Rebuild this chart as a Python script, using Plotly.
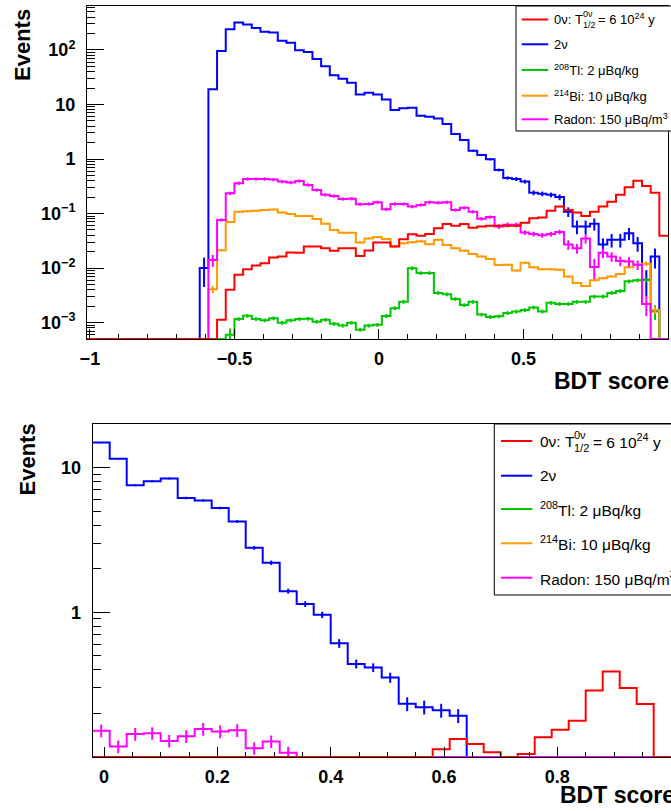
import numpy as np
import plotly.graph_objects as go

W, H = 671, 811

# ---------------- data ----------------
# top panel: 67 bins of width 0.03 from -1.01 to 1.00
top_edges = np.round(np.linspace(-1.01, 1.00, 68), 4)
# bottom panel: 34 bins of width 0.03 from -0.02 to 1.00
bot_edges = np.round(np.linspace(-0.02, 1.00, 35), 4)

top_0nu = [0] * 15 + [
    0.00113, 0.004, 0.0075, 0.0095, 0.0111, 0.0123, 0.0156, 0.0163, 0.0192, 0.019,
    0.0248, 0.0248, 0.023, 0.0207, 0.023, 0.023,
    0.0167, 0.021, 0.0294, 0.0294, 0.0248, 0.0338, 0.0418, 0.039, 0.042, 0.0537,
    0.064, 0.060, 0.064, 0.055, 0.058, 0.060, 0.060, 0.060,
    0.060, 0.068, 0.082, 0.085, 0.113, 0.134, 0.116, 0.105, 0.090, 0.108,
    0.134, 0.165, 0.22, 0.303, 0.40, 0.32, 0.24, 0.039]

top_2nu = [0] * 13 + [
    0.010, 19, 96, 240, 320, 293, 254, 215, 209, 147, 135, 99, 92, 68, 50, 34.5, 29.6, 25,
    15.3, 16.4, 15.3, 12.4, 7.9, 8.5, 8.7, 6.2, 5.96, 5.56, 4.37, 2.87, 2.23, 1.42, 1.18,
    0.99, 0.63, 0.45, 0.43, 0.385, 0.24, 0.23, 0.22, 0.20, 0.108, 0.058, 0.058, 0.065,
    0.027, 0.033, 0.033, 0.0435, 0.0285, 0.0061, 0.0163, 0]

top_tl = [0] * 16 + [
    0.0006, 0.00116, 0.00133, 0.00116, 0.0011, 0.0012, 0.00099, 0.0011, 0.00116, 0.00118,
    0.00104, 0.00113, 0.00095, 0.00088, 0.00099, 0.00074, 0.00088, 0.00091, 0.00132,
    0.00184, 0.0024, 0.00995, 0.0081, 0.0081, 0.0035, 0.0033, 0.0027, 0.0021, 0.0024,
    0.0014, 0.00127, 0.0013, 0.0015, 0.0016, 0.0017, 0.0019, 0.0016, 0.0023, 0.0022,
    0.0022, 0.0024, 0.0024, 0.003, 0.003, 0.0035, 0.0038, 0.0057, 0.006, 0.006, 0.0016, 0]

top_bi = [0] * 14 + [
    0.0041, 0.0213, 0.07, 0.108, 0.11, 0.112, 0.116, 0.118, 0.104, 0.098, 0.09, 0.09,
    0.079, 0.065, 0.05, 0.0446, 0.0446, 0.0294, 0.035, 0.037, 0.034, 0.025, 0.0285,
    0.0297, 0.031, 0.0274, 0.033, 0.0266, 0.023, 0.0207, 0.0182, 0.0163, 0.0146, 0.0114,
    0.0115, 0.0090, 0.0125, 0.0104, 0.0095, 0.0095, 0.0093, 0.0070, 0.0053, 0.0047,
    0.006, 0.0065, 0.007, 0.0078, 0.0104, 0.0115, 0.012, 0.0017, 0]

top_rn = [0] * 14 + [
    0.014, 0.076, 0.235, 0.36, 0.43, 0.43, 0.43, 0.42, 0.385, 0.37, 0.395, 0.334, 0.27,
    0.22, 0.21, 0.185, 0.187, 0.148, 0.15, 0.161, 0.12, 0.15, 0.15, 0.134, 0.144, 0.161,
    0.158, 0.161, 0.116, 0.128, 0.108, 0.08, 0.086, 0.058, 0.062, 0.062, 0.045, 0.042,
    0.04, 0.042, 0.046, 0.027, 0.023, 0.035, 0.0105, 0.019, 0.0163, 0.0135, 0.0132,
    0.0115, 0.0022, 0, 0]

# relative statistical errors
top_2nu_err = [0] * 13 + [0.55] + [0.01] * 28 + [0.03, 0.03, 0.04, 0.04, 0.05] + [
    0.06, 0.07, 0.08, 0.08, 0.1, 0.1, 0.1, 0.12, 0.2, 0.28, 0.28, 0.25, 0.3, 0.28, 0.28,
    0.25, 0.3, 0.5, 0.4, 0]
top_tl_err = [0] * 16 + [0.3] + [0.08] * 48 + [0.3, 0]
top_bi_err = [0] * 14 + [0.15] + [0.04] * 49 + [0.1, 0.15, 0]
top_rn_err = [0] * 14 + [0.25] + [0.07] * 32 + [0.1] * 8 + [0.2, 0.2, 0.2, 0.4, 0.2,
                                                          0.2, 0.2, 0.2, 0.2, 0.4, 0, 0]

bot_0nu = [0] * 20 + [0.113, 0.133, 0.123, 0.108, 0, 0.105, 0.137, 0.154, 0.178, 0.288,
                      0.389, 0.30, 0.232, 0]
bot_2nu = [14.9, 11.5, 7.55, 8.05, 8.4, 6.17, 5.92, 5.26, 4.24, 2.79, 2.2, 1.40, 1.14,
           0.96, 0.61, 0.44, 0.415, 0.354, 0.233, 0.221, 0.21, 0.193] + [0] * 12
bot_tl = [0] * 34
bot_bi = [0] * 34
bot_rn = [0.152, 0.118, 0.144, 0.146, 0.129, 0.139, 0.156, 0.15, 0.153, 0.115, 0.128,
          0.107] + [0] * 22

bot_2nu_err = [0.01, 0.012, 0.015, 0.015, 0.015, 0.02, 0.02, 0.02, 0.025, 0.03, 0.035,
               0.04, 0.045, 0.05, 0.07, 0.07, 0.07, 0.08, 0.11, 0.11, 0.11, 0.11] + [0] * 12
bot_rn_err = [0.1] * 12 + [0] * 22

for arr, n in [(top_0nu, 67), (top_2nu, 67), (top_tl, 67), (top_bi, 67), (top_rn, 67),
               (top_2nu_err, 67), (top_tl_err, 67), (top_bi_err, 67), (top_rn_err, 67),
               (bot_0nu, 34), (bot_2nu, 34), (bot_rn, 34), (bot_2nu_err, 34), (bot_rn_err, 34)]:
    assert len(arr) == n, (len(arr), n)

C_RED, C_BLUE, C_GREEN, C_ORANGE, C_MAG = "#ff0000", "#0000ff", "#00c800", "#ff9900", "#ff00ff"

TOP_YMIN, TOP_YMAX = 5e-4, 640
BOT_YMIN, BOT_YMAX = 0.1, 20

fig = go.Figure()


def add_hist(edges, vals, errs, floor, color, xa, ya):
    y = [max(v, floor) for v in vals]
    y = y + [y[-1]]
    fig.add_trace(go.Scatter(x=list(edges), y=y, mode="lines",
                             line=dict(color=color, width=2, shape="hv"),
                             xaxis=xa, yaxis=ya, showlegend=False, hoverinfo="skip"))
    if errs is not None:
        cx, cy, ce = [], [], []
        for i, (v, e) in enumerate(zip(vals, errs)):
            if v > 0 and e > 0:
                cx.append((edges[i] + edges[i + 1]) / 2)
                cy.append(v)
                ce.append(v * e)
        fig.add_trace(go.Scatter(x=cx, y=cy, mode="markers",
                                 marker=dict(size=1, color=color),
                                 error_y=dict(type="data", array=ce, color=color,
                                              thickness=2, width=0),
                                 xaxis=xa, yaxis=ya, showlegend=False, hoverinfo="skip"))


# top panel
add_hist(top_edges, top_2nu, top_2nu_err, TOP_YMIN, C_BLUE, "x", "y")
add_hist(top_edges, top_tl, top_tl_err, TOP_YMIN, C_GREEN, "x", "y")
add_hist(top_edges, top_bi, top_bi_err, TOP_YMIN, C_ORANGE, "x", "y")
add_hist(top_edges, top_rn, top_rn_err, TOP_YMIN, C_MAG, "x", "y")
add_hist(top_edges, top_0nu, None, TOP_YMIN, C_RED, "x", "y")
# bottom panel
add_hist(bot_edges, bot_2nu, bot_2nu_err, BOT_YMIN, C_BLUE, "x2", "y2")
add_hist(bot_edges, bot_tl, None, BOT_YMIN, C_GREEN, "x2", "y2")
add_hist(bot_edges, bot_bi, None, BOT_YMIN, C_ORANGE, "x2", "y2")
add_hist(bot_edges, bot_rn, bot_rn_err, BOT_YMIN, C_MAG, "x2", "y2")
add_hist(bot_edges, bot_0nu, None, BOT_YMIN, C_RED, "x2", "y2")


def px(x):
    return x / W


def py(y):
    return 1 - y / H


TICKFONT = dict(family="Liberation Sans", size=18, color="black", weight="bold")


def log_minor(lo, hi):
    out = []
    for n in range(-5, 3):
        for k in range(2, 10):
            v = k * 10.0 ** n
            if lo < v < hi:
                out.append(v)
    return out


common_x = dict(showline=True, mirror=True, linecolor="black", linewidth=1,
                ticks="inside", tickcolor="black", ticklen=10, tickwidth=1,
                showgrid=False, zeroline=False, tickfont=TICKFONT, ticklabelstandoff=3,
                automargin=False)
common_y = dict(type="log", showline=True, mirror=True, linecolor="black", linewidth=1,
                ticks="inside", tickcolor="black", ticklen=17, tickwidth=1,
                showgrid=False, zeroline=False, tickfont=TICKFONT, ticklabelstandoff=7,
                automargin=False)

fig.update_layout(
    template="none",
    width=W, height=H, margin=dict(l=0, r=0, t=0, b=0, pad=0),
    paper_bgcolor="white", plot_bgcolor="white",
    font=dict(family="Liberation Sans", color="black"),
    showlegend=False,
    xaxis=dict(domain=[px(87), px(668)], range=[-1.01, 1.0], anchor="y",
               tickvals=[-1, -0.5, 0, 0.5, 1], ticktext=["\u22121", "\u22120.5", "0", "0.5", "1"],
               minor=dict(ticks="inside", ticklen=5, tickcolor="black", dtick=0.1, tick0=0),
               **common_x),
    yaxis=dict(domain=[py(339), py(6)], range=[np.log10(TOP_YMIN), np.log10(TOP_YMAX)],
               anchor="x",
               tickvals=[1e-3, 1e-2, 1e-1, 1, 10, 100],
               ticktext=["10<sup>\u22123</sup>", "10<sup>\u22122</sup>", "10<sup>\u22121</sup>",
                         "1", "10", "10<sup>2</sup>"],
               minor=dict(ticks="inside", ticklen=8, tickcolor="black", tickmode="array",
                          tickvals=log_minor(TOP_YMIN, TOP_YMAX)),
               **common_y),
    xaxis2=dict(domain=[px(92.7), px(670.7)], range=[-0.02, 1.0], anchor="y2",
                tickvals=[0, 0.2, 0.4, 0.6, 0.8, 1.0], ticktext=["0", "0.2", "0.4", "0.6", "0.8", "1"],
                minor=dict(ticks="inside", ticklen=5, tickcolor="black", dtick=0.05, tick0=0),
                **common_x),
    yaxis2=dict(domain=[py(757), py(424)], range=[np.log10(BOT_YMIN), np.log10(BOT_YMAX)],
                anchor="x2",
                tickvals=[1, 10], ticktext=["1", "10"],
                minor=dict(ticks="inside", ticklen=8, tickcolor="black", tickmode="array",
                           tickvals=log_minor(BOT_YMIN, BOT_YMAX)),
                **common_y),
)

ann = []
shapes = []
TITLEFONT = dict(family="Liberation Sans", size=23, color="black", weight="bold")

# axis titles
ann.append(dict(text="Events", x=px(22), y=py(45), textangle=-90,
                font=dict(TITLEFONT, size=22)))
ann.append(dict(text="Events", x=px(26.5), y=py(460), textangle=-90,
                font=dict(TITLEFONT, size=22)))
ann.append(dict(text="BDT score", x=px(552), y=py(381), xanchor="left", font=TITLEFONT))
ann.append(dict(text="BDT score", x=px(558), y=py(795), xanchor="left", font=TITLEFONT))

# legends
legend_labels = ["2\u03bd", "<sup>208</sup>Tl: 2 \u03bcBq/kg", "<sup>214</sup>Bi: 10 \u03bcBq/kg",
                 "Radon: 150 \u03bcBq/m<sup>3</sup>"]
legend_colors = [C_RED, C_BLUE, C_GREEN, C_ORANGE, C_MAG]


def add_legend(box, line_x, text_x, rows, fsize, sup_x, eq_x, sup_dy, sub_dy):
    x0, y0, y1 = box
    shapes.append(dict(type="rect", xref="paper", yref="paper", x0=px(x0), x1=px(720),
                       y0=py(y1), y1=py(y0), line=dict(color="black", width=1),
                       fillcolor="white", layer="above"))
    for r, c in zip(rows, legend_colors):
        shapes.append(dict(type="line", xref="paper", yref="paper", x0=px(line_x[0]),
                           x1=px(line_x[1]), y0=py(r), y1=py(r),
                           line=dict(color=c, width=2), layer="above"))
    f = dict(family="Liberation Sans", size=fsize, color="black")
    fs = dict(family="Liberation Sans", size=round(fsize * 0.72), color="black")
    r0 = rows[0]
    ann.append(dict(text="0\u03bd: T", x=px(text_x), y=py(r0), xanchor="left", font=f))
    ann.append(dict(text="0\u03bd", x=px(sup_x), y=py(r0 + sup_dy), xanchor="left", font=fs))
    ann.append(dict(text="1/2", x=px(sup_x), y=py(r0 + sub_dy), xanchor="left", font=fs))
    ann.append(dict(text="= 6 10<sup>24</sup> y", x=px(eq_x), y=py(r0), xanchor="left", font=f))
    for r, t in zip(rows[1:], legend_labels):
        ann.append(dict(text=t, x=px(text_x), y=py(r), xanchor="left", font=f))


add_legend((516, 6, 131), (521.7, 548.3), 551.5, [19.5, 44.3, 70, 95.7, 119.3], 13,
           580.5, 595.5, -5.5, 5.5)
add_legend((494.3, 424, 595), (501, 532.3), 537.5, [441, 475.7, 509, 543.3, 577.7], 15.5,
           572, 591, -6.5, 6.5)

for a in ann:
    a.setdefault("xref", "paper")
    a.setdefault("yref", "paper")
    a.setdefault("showarrow", False)
    a.setdefault("yanchor", "middle")
    a.setdefault("xanchor", "center")

fig.update_layout(annotations=ann, shapes=shapes)
fig.write_html("out.html", config={"displayModeBar": False},
               post_script="document.body.style.margin='0';document.body.style.overflow='hidden';")
